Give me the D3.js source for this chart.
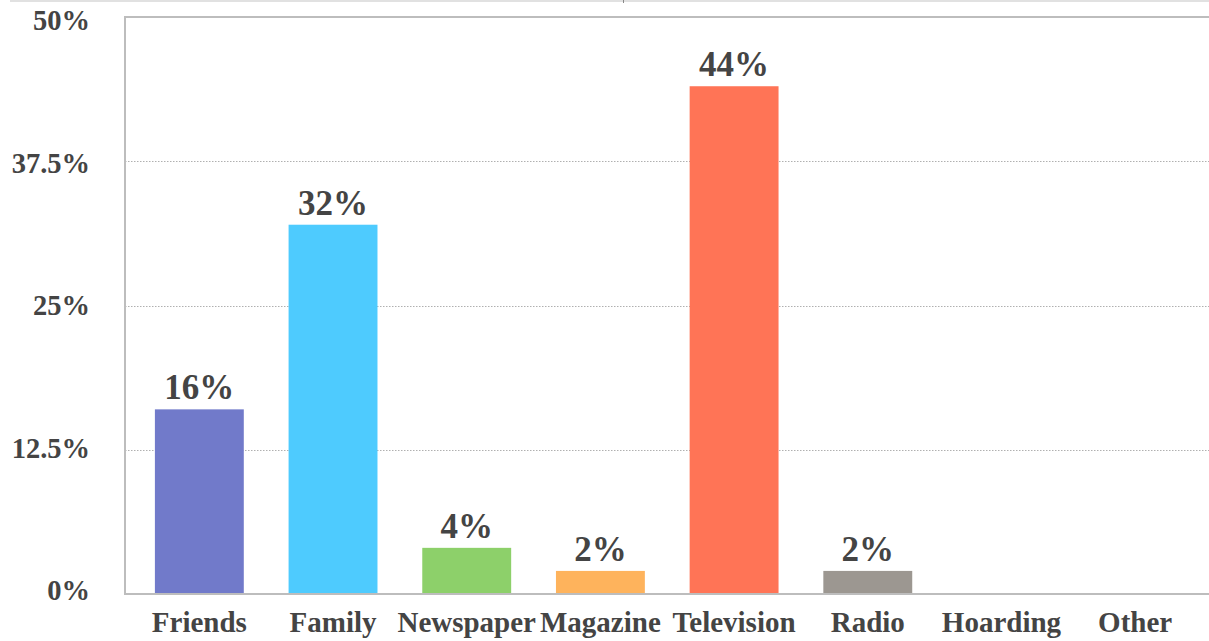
<!DOCTYPE html>
<html>
<head>
<meta charset="utf-8">
<script src="https://cdn.jsdelivr.net/npm/d3@7/dist/d3.min.js"></script>
<style>
  html, body { margin: 0; padding: 0; background: #fff; }
  svg { display: block; }
</style>
</head>
<body>
<svg id="chart" width="1209" height="641"></svg>
<script>
// Source of awareness, share of respondents
const categories = ["Friends", "Family", "Newspaper", "Magazine", "Television", "Radio", "Hoarding", "Other"];
const values = [16, 32, 4, 2, 44, 2, 0, 0];
const colors = ["#717aca", "#4ecbfe", "#8dd06a", "#feb35c", "#ff7456", "#9c9791", "#cccccc", "#cccccc"];
const yTicks = [0, 12.5, 25, 37.5, 50];
const yTickLabels = ["0%", "12.5%", "25%", "37.5%", "50%"];

const FONT = "'Liberation Serif', 'DejaVu Serif', serif";
const W = 1209, H = 641;
const plot = { left: 125, right: 1209, top: 17, bottom: 594 };

const svg = d3.select("#chart");

const x = d3.scaleBand()
  .domain(categories)
  .range([132.5, 1202])
  .paddingInner(0.335)
  .paddingOuter(0.1675);

const y = d3.scaleLinear().domain([0, 50]).range([plot.bottom, plot.top]);
// tick labels sit slightly inside the plot's vertical extent
const yLabel = d3.scaleLinear().domain([0, 50]).range([600, 30]);

// outer frame line at the very top
svg.append("line")
  .attr("x1", 10).attr("x2", W).attr("y1", 1).attr("y2", 1)
  .attr("stroke", "#c4c4c4").attr("stroke-width", 1.2);
svg.append("line")
  .attr("x1", 623.5).attr("x2", 623.5).attr("y1", 0).attr("y2", 3)
  .attr("stroke", "#888").attr("stroke-width", 1);

// dotted gridlines
svg.append("g")
  .selectAll("line")
  .data(yTicks.filter(t => t > 0 && t < 50))
  .join("line")
  .attr("x1", plot.left).attr("x2", plot.right)
  .attr("y1", d => Math.round(y(d)) + 0.5).attr("y2", d => Math.round(y(d)) + 0.5)
  .attr("stroke", "#b0b0b0").attr("stroke-width", 1)
  .attr("stroke-dasharray", "1.5,1.5");

// plot border: top, left
svg.append("line")
  .attr("x1", plot.left).attr("x2", plot.right).attr("y1", y(50)).attr("y2", y(50))
  .attr("stroke", "#bdbdbd").attr("stroke-width", 2);
svg.append("line")
  .attr("x1", plot.left).attr("x2", plot.left).attr("y1", y(50) - 1).attr("y2", y(0) + 1)
  .attr("stroke", "#bdbdbd").attr("stroke-width", 2);

// bars
svg.append("g")
  .selectAll("rect")
  .data(categories.map((c, i) => ({ c, v: values[i], col: colors[i] })))
  .join("rect")
  .attr("x", d => x(d.c))
  .attr("width", x.bandwidth())
  .attr("y", d => y(d.v))
  .attr("height", d => y(0) - y(d.v))
  .attr("fill", d => d.col);

// baseline
svg.append("line")
  .attr("x1", plot.left - 1).attr("x2", plot.right).attr("y1", y(0)).attr("y2", y(0))
  .attr("stroke", "#bdbdbd").attr("stroke-width", 2);

function label(sel, size) {
  return sel.attr("font-family", FONT)
    .attr("font-weight", "bold")
    .attr("font-size", size)
    .attr("fill", "#444444");
}

// value labels
svg.append("g")
  .selectAll("text")
  .data(categories.map((c, i) => ({ c, v: values[i] })).filter(d => d.v > 0))
  .join("text")
  .call(label, 35)
  .attr("x", d => x(d.c) + x.bandwidth() / 2)
  .attr("y", d => y(d.v) - 10)
  .attr("text-anchor", "middle")
  .text(d => d.v + "%");

// y-axis labels
svg.append("g")
  .selectAll("text")
  .data(yTicks)
  .join("text")
  .call(label, 28.5)
  .attr("x", 90)
  .attr("y", d => yLabel(d))
  .attr("text-anchor", "end")
  .text((d, i) => yTickLabels[i]);

// x-axis labels
svg.append("g")
  .selectAll("text")
  .data(categories)
  .join("text")
  .call(label, 29)
  .attr("x", d => x(d) + x.bandwidth() / 2)
  .attr("y", 632)
  .attr("text-anchor", "middle")
  .text(d => d);
</script>
</body>
</html>
